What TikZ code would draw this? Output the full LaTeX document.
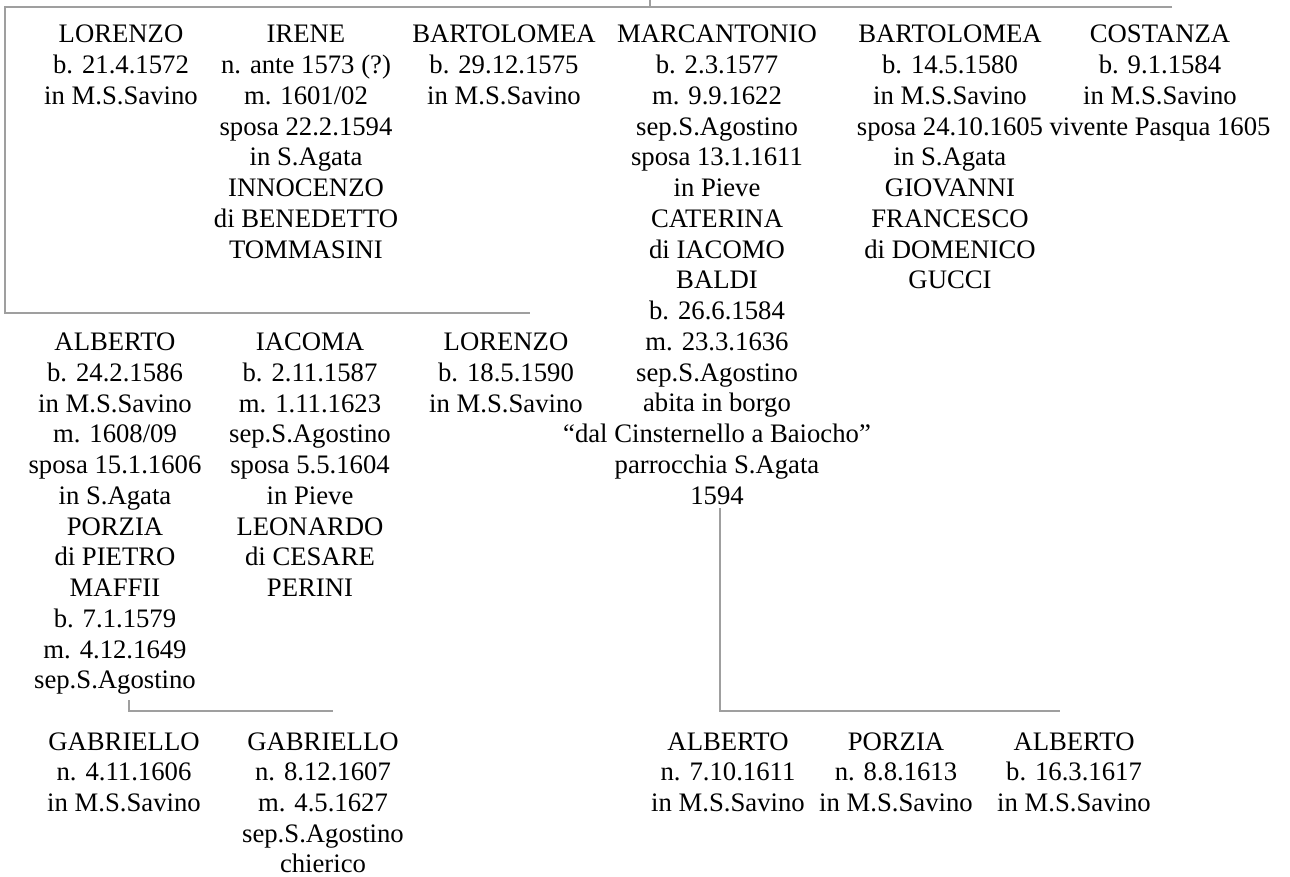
\documentclass[tikz,border=0pt]{standalone}
\usepackage{fontspec}
\setmainfont{Liberation Serif}
\newcommand{\pers}[1]{\begin{tabular}[t]{@{}c@{}}#1\\[-9pt]\end{tabular}}
\begin{document}
\begin{tikzpicture}[x=1pt,y=-1pt,
  person/.style={anchor=base,inner sep=0pt,font=\fontsize{26.7}{30.74}\selectfont},
  conn/.style={draw=gray!75,line width=1.2pt}]
\useasboundingbox (0,0) rectangle (1290,877);
% row 1
\node[person] (lorenzo1) at (121,43) {\pers{LORENZO\\b. 21.4.1572\\in M.S.Savino}};
\node[person] (irene) at (306,43) {\pers{IRENE\\n. ante 1573 (?)\\m. 1601/02\\sposa 22.2.1594\\in S.Agata\\INNOCENZO\\di BENEDETTO\\TOMMASINI}};
\node[person] (bart1) at (504,43) {\pers{BARTOLOMEA\\b. 29.12.1575\\in M.S.Savino}};
\node[person] (marc) at (717,43) {\pers{MARCANTONIO\\b. 2.3.1577\\m. 9.9.1622\\sep.S.Agostino\\sposa 13.1.1611\\in Pieve\\CATERINA\\di IACOMO\\BALDI\\b. 26.6.1584\\m. 23.3.1636\\sep.S.Agostino\\abita in borgo\\“dal Cinsternello a Baiocho”\\parrocchia S.Agata\\1594}};
\node[person] (bart2) at (950,43) {\pers{BARTOLOMEA\\b. 14.5.1580\\in M.S.Savino\\sposa 24.10.1605\\in S.Agata\\GIOVANNI\\FRANCESCO\\di DOMENICO\\GUCCI}};
\node[person] (costanza) at (1160,43) {\pers{COSTANZA\\b. 9.1.1584\\in M.S.Savino\\vivente Pasqua 1605}};
% row 2
\node[person] (alberto1) at (115,350.6) {\pers{ALBERTO\\b. 24.2.1586\\in M.S.Savino\\m. 1608/09\\sposa 15.1.1606\\in S.Agata\\PORZIA\\di PIETRO\\MAFFII\\b. 7.1.1579\\m. 4.12.1649\\sep.S.Agostino}};
\node[person] (iacoma) at (310,350.6) {\pers{IACOMA\\b. 2.11.1587\\m. 1.11.1623\\sep.S.Agostino\\sposa 5.5.1604\\in Pieve\\LEONARDO\\di CESARE\\PERINI}};
\node[person] (lorenzo2) at (506,350.6) {\pers{LORENZO\\b. 18.5.1590\\in M.S.Savino}};
% row 3
\node[person] (gab1) at (124,750) {\pers{GABRIELLO\\n. 4.11.1606\\in M.S.Savino}};
\node[person] (gab2) at (323,750) {\pers{GABRIELLO\\n. 8.12.1607\\m. 4.5.1627\\sep.S.Agostino\\chierico}};
\node[person] (alberto2) at (728,750) {\pers{ALBERTO\\n. 7.10.1611\\in M.S.Savino}};
\node[person] (porzia) at (896,750) {\pers{PORZIA\\n. 8.8.1613\\in M.S.Savino}};
\node[person] (alberto3) at (1074,750) {\pers{ALBERTO\\b. 16.3.1617\\in M.S.Savino}};
% connectors
\coordinate (up) at (650,0);
\coordinate (b1L) at (5,7);
\coordinate (b1R) at (1172,7);
\coordinate (b2L) at (5,313);
\coordinate (b2R) at (530,313);
\draw[conn] (up) -- (up |- b1L);
\draw[conn] (b1R) -- (b1L) -- (b2L) -- (b2R);
\coordinate (a1) at (129,700);
\coordinate (a1R) at (333,711);
\draw[conn] (a1) -- (a1 |- a1R) -- (a1R);
\coordinate (m1) at (720,508);
\coordinate (m1R) at (1060,711);
\draw[conn] (m1) -- (m1 |- m1R) -- (m1R);
\end{tikzpicture}
\end{document}
